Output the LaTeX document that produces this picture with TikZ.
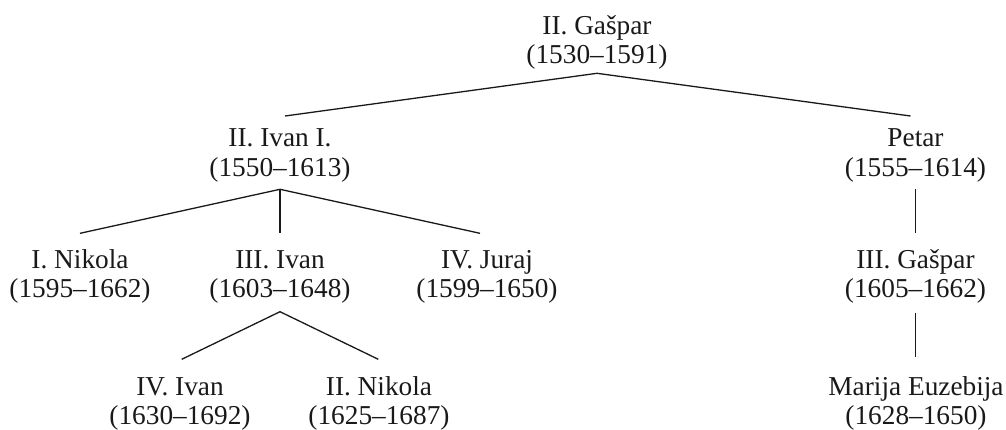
\documentclass[tikz,border=0pt]{standalone}
\usepackage{fontspec}
\setmainfont{Liberation Serif}
\newcommand{\pfont}{\fontsize{27.3}{29.5}\selectfont}
\newcommand{\pl}[2]{\begin{tabular}[t]{@{}c@{}}#1\\#2\end{tabular}}
\begin{document}
\begin{tikzpicture}[x=1pt,y=-1pt,
  person/.style={anchor=base, inner sep=0pt, font=\pfont, text=black!90},
  link/.style={line width=1.3pt, draw=black!90}]
\useasboundingbox (0,0) rectangle (1006,429);
% nodes
\node[person] (gaspar)  at (597,34.3)  {\pl{II. Gašpar}{(1530–1591)}};
\node[person] (ivan1)   at (280,146.7) {\pl{II. Ivan I.}{(1550–1613)}};
\node[person] (petar)   at (915.5,146.7) {\pl{Petar}{(1555–1614)}};
\node[person] (nikola1) at (80,268.3)  {\pl{I. Nikola}{(1595–1662)}};
\node[person] (ivan3)   at (280,268.3) {\pl{III. Ivan}{(1603–1648)}};
\node[person] (juraj)   at (487,268.3) {\pl{IV. Juraj}{(1599–1650)}};
\node[person] (gaspar3) at (915.5,268.3) {\pl{III. Gašpar}{(1605–1662)}};
\node[person] (ivan4)   at (180,395)   {\pl{IV. Ivan}{(1630–1692)}};
\node[person] (nikola2) at (379,395)   {\pl{II. Nikola}{(1625–1687)}};
\node[person] (marija)  at (916,395)   {\pl{Marija Euzebija}{(1628–1650)}};
% connectors
\draw[link] ([shift={(5,-30.7)}]ivan1.base) -- ([shift={(0,39)}]gaspar.base) -- ([shift={(-5,-30.7)}]petar.base);
\draw[link] ([shift={(0,-35)}]nikola1.base) -- ([shift={(0,42.6)}]ivan1.base) -- ([shift={(-7,-35)}]juraj.base);
\draw[link] ([shift={(0,42.6)}]ivan1.base) -- ([shift={(0,-35)}]ivan3.base);
\draw[link] ([shift={(0.2,42.6)}]petar.base) -- ([shift={(0.2,-35)}]gaspar3.base);
\draw[link] ([shift={(1.7,-35.7)}]ivan4.base) -- ([shift={(0,43.4)}]ivan3.base) -- ([shift={(-0.7,-35.7)}]nikola2.base);
\draw[link] ([shift={(0.2,44.4)}]gaspar3.base) -- ([shift={(-0.3,-38.3)}]marija.base);
\end{tikzpicture}
\end{document}
